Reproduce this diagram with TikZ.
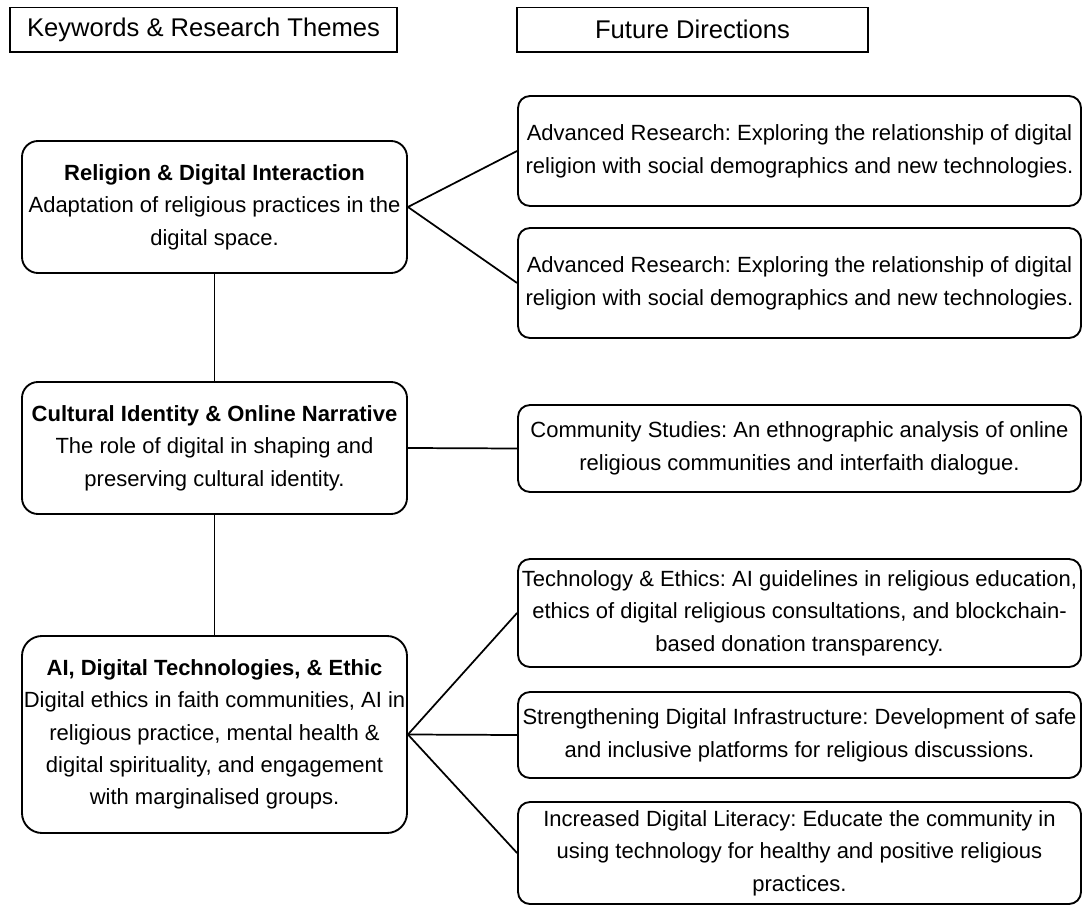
\documentclass[tikz,border=0pt]{standalone}
\usepackage{fontspec}
\setmainfont{Liberation Sans}
\usetikzlibrary{positioning}
\frenchspacing

\begin{document}
\begin{tikzpicture}[x=0.75pt, y=-0.75pt,
    every node/.style={align=center, inner sep=0pt, line width=1.4pt},
    header/.style={draw, minimum height=33.4pt, font=\fontsize{19.2}{23}\selectfont},
    theme/.style={draw, rounded corners=12pt, minimum width=288.75pt, minimum height=99pt, font=\fontsize{16.5}{24.3}\selectfont},
    future/.style={draw, rounded corners=9pt, minimum width=422.25pt, font=\fontsize{16.5}{24.5}\selectfont},
    link/.style={line width=1.3pt}]
        \useasboundingbox (0,0) rectangle (1083,906);

        % column headings
        \node[header, minimum width=290.25pt] (keyhead) at (203.5,29.75) {Keywords \& Research Themes};
        \node[header, minimum width=263.25pt] (futhead) at (692.5,29.75) {Future Directions};

        % research themes
        \node[theme] (religion) at (214.5,207) {\textbf{Religion \& Digital Interaction}\\Adaptation of religious practices in the\\digital space.};
        \node[theme] (culture) at (214.5,448) {\textbf{Cultural Identity \& Online Narrative}\\The role of digital in shaping and\\preserving cultural identity.};
        \node[theme, rounded corners=15pt, minimum height=147.75pt] (ai) at (214.5,734.5) {\textbf{AI, Digital Technologies, \& Ethic}\\Digital ethics in faith communities, AI in\\religious practice, mental health \&\\digital spirituality, and engagement\\with marginalised groups.};

        % future directions
        \node[future, minimum height=82.5pt] (adv1) at (799.5,151) {Advanced Research: Exploring the relationship of digital\\religion with social demographics and new technologies.};
        \node[future, minimum height=82.5pt] (adv2) at (799.5,283) {Advanced Research: Exploring the relationship of digital\\religion with social demographics and new technologies.};
        \node[future, minimum height=65.25pt] (community) at (799.5,448.5) {Community Studies: An ethnographic analysis of online\\religious communities and interfaith dialogue.};
        \node[future, minimum height=81pt] (ethics) at (799.5,613) {Technology \& Ethics: AI guidelines in religious education,\\ethics of digital religious consultations, and blockchain-\\based donation transparency.};
        \node[future, minimum height=64.5pt] (infra) at (799.5,735) {Strengthening Digital Infrastructure: Development of safe\\and inclusive platforms for religious discussions.};
        \node[future, minimum height=76.5pt] (literacy) at (799.5,853) {Increased Digital Literacy: Educate the community in\\using technology for healthy and positive religious\\practices.};

        \draw[link] (religion) -- (culture);
        \draw[link] (culture) -- (ai);

        \draw[link] (religion.east) -- (adv1.west);
        \draw[link] (religion.east) -- (adv2.west);
        \draw[link] (culture.east) -- (community.west);
        \draw[link] (ai.east) -- (ethics.west);
        \draw[link] (ai.east) -- (infra.west);
        \draw[link] (ai.east) -- (literacy.west);
\end{tikzpicture}
\end{document}
